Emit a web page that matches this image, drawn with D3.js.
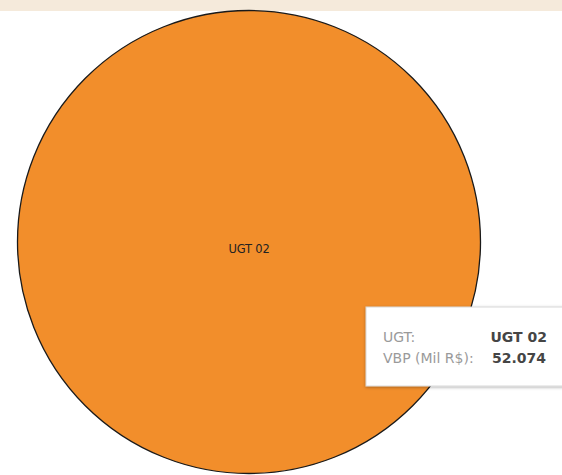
<!DOCTYPE html>
<html>
<head>
<meta charset="utf-8">
<script src="https://cdn.jsdelivr.net/npm/d3@7"></script>
<style>
  body { margin: 0; background: #fff; overflow: hidden; }
  svg { display: block; }
</style>
</head>
<body>
<div id="grafico"></div>
<script>
// dados do gráfico
const ugts = ["UGT 02"];
const vbp = [52.074];
const rotuloCampos = ["UGT:", "VBP (Mil R$):"];

const largura = 562, altura = 475;
const fonte = "'DejaVu Sans', 'Noto Sans', sans-serif";

const svg = d3.select("#grafico").append("svg")
    .attr("width", largura)
    .attr("height", altura);

// faixa superior
svg.append("rect")
    .attr("x", 0).attr("y", 0)
    .attr("width", largura).attr("height", 11)
    .attr("fill", "#f5eadb");

const dados = ugts.map((u, i) => ({ ugt: u, valor: vbp[i] }));

const cor = d3.scaleOrdinal().domain(ugts).range(["#f28e2b"]);

const pie = d3.pie().value(d => d.valor).sort(null);
const arco = d3.arc().innerRadius(0).outerRadius(231.5);

const g = svg.append("g")
    .attr("transform", "translate(249,242)");

g.selectAll("path")
    .data(pie(dados))
    .enter().append("path")
    .attr("d", arco)
    .attr("fill", d => cor(d.data.ugt))
    .attr("stroke", "#1a1a1a")
    .attr("stroke-width", 1.3);

g.selectAll("text.rotulo")
    .data(pie(dados))
    .enter().append("text")
    .attr("class", "rotulo")
    .attr("y", 10.5)
    .attr("text-anchor", "middle")
    .style("font-family", fonte)
    .style("font-size", "11.5px")
    .style("letter-spacing", "-0.2px")
    .attr("fill", "#222")
    .text(d => d.data.ugt);

// tooltip
const fmt = v => d3.format(".3f")(v);
const defs = svg.append("defs");
const filtro = defs.append("filter").attr("id", "sombra")
    .attr("x", "-20%").attr("y", "-20%").attr("width", "140%").attr("height", "150%");
filtro.append("feDropShadow")
    .attr("dx", 0).attr("dy", 1).attr("stdDeviation", 1.5)
    .attr("flood-color", "#000").attr("flood-opacity", 0.3);

const tip = svg.append("g").attr("transform", "translate(366,307)");
tip.append("rect")
    .attr("width", 210).attr("height", 79)
    .attr("fill", "#fff")
    .attr("stroke", "#d8d8d8")
    .attr("filter", "url(#sombra)");

const valores = [dados[0].ugt, fmt(dados[0].valor)];
const linhas = tip.selectAll("g.linha")
    .data(rotuloCampos)
    .enter().append("g")
    .attr("class", "linha")
    .attr("transform", (d, i) => `translate(0,${35 + i * 21})`);

linhas.append("text")
    .attr("x", 17)
    .style("font-family", fonte)
    .style("font-size", "14px")
    .attr("fill", "#9a9a9a")
    .text(d => d);

linhas.append("text")
    .attr("x", (d, i) => i === 0 ? 181 : 126)
    .attr("text-anchor", (d, i) => i === 0 ? "end" : "start")
    .style("font-family", fonte)
    .style("font-size", "14px")
    .style("font-weight", "bold")
    .attr("fill", "#454545")
    .text((d, i) => valores[i]);
</script>
</body>
</html>
